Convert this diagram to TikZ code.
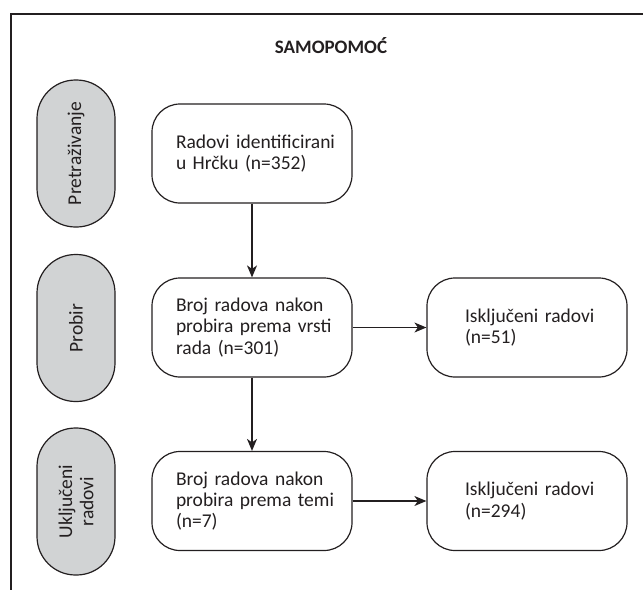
\documentclass[tikz,border=0pt]{standalone}
\usepackage{fontspec}
\setmainfont{Carlito}
\usetikzlibrary{arrows.meta}
\definecolor{ink}{HTML}{231F20}
\definecolor{pillgray}{HTML}{D1D3D4}
\tikzset{
  txt/.style={text=ink, font=\fontsize{19.5}{21.3}\selectfont},
  boxL/.style={txt, draw=ink, line width=1.2pt, rounded corners=28pt, minimum width=200pt, minimum height=99pt,
    text width=152pt, inner xsep=24pt, align=left},
  boxR/.style={txt, draw=ink, line width=1.2pt, rounded corners=28pt, minimum width=200pt, minimum height=99pt,
    text width=124pt, inner xsep=38pt, align=left},
  pill/.style={txt, draw=ink, fill=pillgray, line width=1.2pt, rounded corners=38.5pt, minimum width=147pt, minimum height=78pt,
    rotate=90, align=center},
  arr/.style={draw=ink, line width=1.2pt, -{Stealth[length=12pt,width=10pt,inset=3.5pt]}},
  frame/.style={draw=ink, line width=1.2pt}
}
\begin{document}
\begin{tikzpicture}[x=1pt,y=-1pt]
\useasboundingbox (0,0) rectangle (643,590);
\coordinate (fa) at (643,14);
\coordinate (fb) at (11,14);
\coordinate (fc) at (11,590);
\draw[frame] (fa) -- (fb) -- (fc);
\node[text=ink, font=\bfseries\fontsize{19}{20}\selectfont] (title) at (331,46) {SAMOPOMOĆ};
\node[pill] (p1) at (76,153.5) {Pretraživanje};
\node[pill] (p2) at (76,328) {Probir};
\node[pill] (p3) at (76,501.5) {Uključeni\\radovi};
\node[boxL] (b1) at (252,153.5) {\mbox{Radovi identificirani}\\\mbox{u Hrčku (n=352)}};
\node[boxL] (b2) at (252,327.5) {\mbox{Broj radova nakon}\\\mbox{probira prema vrsti}\\\mbox{rada (n=301)}};
\node[boxL] (b3) at (252,501) {\mbox{Broj radova nakon}\\\mbox{probira prema temi}\\(n=7)};
\node[boxR] (r1) at (527,327.5) {\mbox{Isključeni radovi}\\(n=51)};
\node[boxR] (r2) at (527,501) {\mbox{Isključeni radovi}\\(n=294)};
\draw[arr] (b1) -- (b2);
\draw[arr] (b2) -- (b3);
\draw[arr] (b2) -- (r1);
\draw[arr] (b3) -- (r2);
\end{tikzpicture}
\end{document}
